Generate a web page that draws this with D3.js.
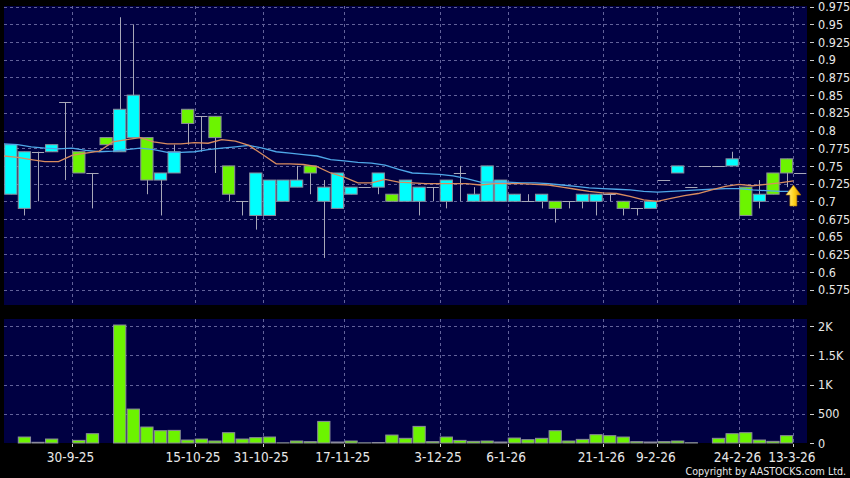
<!DOCTYPE html>
<html>
<head>
<meta charset="utf-8">
<script src="https://cdn.jsdelivr.net/npm/d3@7"></script>
<style>
  html, body { margin: 0; padding: 0; background: #000; }
  svg { display: block; }
  text { font-family: "DejaVu Sans Condensed", "DejaVu Sans", sans-serif; font-stretch: condensed; fill: #e8e8e8; }
</style>
</head>
<body>
<svg id="chart" width="850" height="478"></svg>
<script>
// daily candles, oldest first
const opens  = [0.78,0.77,0.77,0.78,0.84,0.74,0.74,0.78,0.83,0.85,0.73,0.74,0.77,0.81,0.82,0.79,0.71,0.70,0.74,0.73,
                0.73,0.73,0.74,0.72,0.74,0.72,0.72,0.74,0.70,0.73,0.72,0.72,0.73,0.74,0.71,0.75,0.73,0.71,0.70,0.71,
                0.69,0.70,0.71,0.71,0.71,0.69,0.69,0.70,0.73,0.75,0.72,0.75,0.75,0.76,0.68,0.71,0.71,0.74,0.74];
const highs  = [0.78,0.77,0.77,0.78,0.84,0.77,0.74,0.79,0.96,0.95,0.79,0.74,0.78,0.83,0.82,0.82,0.75,0.70,0.74,0.73,
                0.73,0.75,0.75,0.73,0.74,0.72,0.72,0.74,0.71,0.73,0.72,0.72,0.73,0.75,0.72,0.75,0.73,0.71,0.71,0.71,
                0.70,0.70,0.71,0.71,0.71,0.70,0.69,0.70,0.73,0.75,0.72,0.75,0.75,0.77,0.72,0.73,0.74,0.76,0.74];
const lows   = [0.71,0.68,0.70,0.77,0.73,0.74,0.69,0.78,0.77,0.79,0.71,0.68,0.74,0.78,0.77,0.74,0.70,0.68,0.66,0.68,
                0.70,0.72,0.71,0.62,0.69,0.71,0.72,0.71,0.70,0.70,0.68,0.70,0.69,0.70,0.70,0.70,0.70,0.70,0.70,0.69,
                0.67,0.69,0.69,0.68,0.70,0.68,0.68,0.69,0.73,0.74,0.72,0.75,0.75,0.75,0.68,0.69,0.71,0.72,0.74];
const closes = [0.71,0.69,0.77,0.77,0.84,0.77,0.74,0.79,0.77,0.79,0.79,0.73,0.74,0.83,0.82,0.82,0.75,0.70,0.68,0.68,
                0.70,0.72,0.75,0.70,0.69,0.71,0.72,0.72,0.71,0.70,0.70,0.72,0.70,0.74,0.70,0.70,0.70,0.70,0.70,0.70,
                0.70,0.70,0.70,0.70,0.71,0.70,0.69,0.69,0.73,0.74,0.72,0.75,0.75,0.75,0.72,0.70,0.74,0.76,0.74];
const volumes = [0,102,12,68,0,45,159,0,2017,580,273,210,216,51,68,34,176,68,91,102,
                 3,34,23,369,17,34,3,8,136,80,284,23,102,45,28,34,17,85,57,80,
                 210,34,62,142,125,102,23,17,23,34,5,0,80,159,176,51,28,125,0];
const maShort = [0.764,0.762,0.759,0.756,0.756,0.765,0.768,0.771,0.784,0.787,0.790,0.784,0.781,0.781,0.783,0.782,0.787,0.785,0.779,0.766,
                 0.753,0.753,0.752,0.749,0.740,0.734,0.726,0.726,0.731,0.727,0.726,0.725,0.725,0.725,0.725,0.723,0.725,0.725,0.725,0.724,
                 0.723,0.720,0.717,0.714,0.712,0.711,0.707,0.702,0.700,0.704,0.708,0.711,0.716,0.721,0.724,0.722,0.724,0.726,0.729];
const maLong  = [0.781,0.780,0.777,0.775,0.774,0.775,0.772,0.770,0.771,0.773,0.775,0.773,0.769,0.769,0.770,0.773,0.775,0.777,0.779,0.775,
                 0.770,0.768,0.766,0.764,0.759,0.757,0.755,0.754,0.751,0.745,0.740,0.739,0.738,0.736,0.732,0.727,0.727,0.727,0.726,0.726,
                 0.725,0.723,0.721,0.719,0.718,0.717,0.716,0.714,0.713,0.714,0.715,0.716,0.717,0.718,0.718,0.716,0.715,0.714,0.714];

const dateIdx    = [5, 14, 19, 25, 32, 37, 44, 48, 54, 58];
const dateLabels = ['30-9-25','15-10-25','31-10-25','17-11-25','3-12-25','6-1-26','21-1-26','9-2-26','24-2-26','13-3-26'];
const priceTicks = [0.575,0.6,0.625,0.65,0.675,0.7,0.725,0.75,0.775,0.8,0.825,0.85,0.875,0.9,0.925,0.95,0.975];
const volTicks   = [0, 500, 1000, 1500, 2000];
const volLabels  = ['0','500','1K','1.5K','2K'];
const arrowIdx = 58, arrowPrice = 0.723;

const upColor = '#6cf400', downColor = '#00ffff';
const gridColor = '#62629a';

const svg = d3.select('#chart');
const left = 4, right = 807;
const priceTop = 6, priceBottom = 305;
const volTop = 319, volBottom = 443;

const n = closes.length;
const x = d3.scaleBand().domain(d3.range(n)).range([left, right]).paddingInner(0.1).paddingOuter(0.05);
const slotLeft = i => x(i) - (x.step() - x.bandwidth()) / 2;
const mid = i => x(i) + x.bandwidth() / 2;

const y = d3.scaleLinear().domain([0.5535, 0.9759]).range([priceBottom, priceTop]);
const yv = d3.scaleLinear().domain([0, 2120]).range([volBottom, volTop]);

// panel backgrounds
svg.append('rect').attr('x', left).attr('y', priceTop).attr('width', right - left).attr('height', priceBottom - priceTop).attr('fill', '#000042');
svg.append('rect').attr('x', left).attr('y', volTop).attr('width', right - left).attr('height', volBottom - volTop).attr('fill', '#000042');

// grid
const grid = svg.append('g').attr('stroke', gridColor).attr('stroke-dasharray', '3,3').attr('stroke-width', 1);
grid.selectAll('line.hp').data(priceTicks).enter().append('line')
  .attr('x1', left).attr('x2', right)
  .attr('y1', d => Math.round(y(d)) + 0.5).attr('y2', d => Math.round(y(d)) + 0.5);
grid.selectAll('line.hv').data(volTicks.slice(1)).enter().append('line')
  .attr('x1', left).attr('x2', right)
  .attr('y1', d => Math.round(yv(d)) + 0.5).attr('y2', d => Math.round(yv(d)) + 0.5);
dateIdx.forEach(i => {
  const gx = Math.round(slotLeft(i)) + 0.5;
  grid.append('line').attr('x1', gx).attr('x2', gx).attr('y1', priceTop).attr('y2', priceBottom);
  grid.append('line').attr('x1', gx).attr('x2', gx).attr('y1', volTop).attr('y2', volBottom);
});

// wicks
const idx = d3.range(n);
svg.append('g').selectAll('line').data(idx).enter().append('line')
  .attr('x1', i => Math.round(mid(i)) + 0.5).attr('x2', i => Math.round(mid(i)) + 0.5)
  .attr('y1', i => y(highs[i])).attr('y2', i => y(lows[i]))
  .attr('stroke', '#a8a8b8').attr('stroke-width', 1);

// bodies
const bodies = svg.append('g');
bodies.selectAll('rect').data(idx.filter(i => opens[i] !== closes[i])).enter().append('rect')
  .attr('x', i => x(i))
  .attr('width', x.bandwidth())
  .attr('y', i => y(Math.max(opens[i], closes[i])))
  .attr('height', i => Math.abs(y(opens[i]) - y(closes[i])))
  .attr('fill', i => closes[i] > opens[i] ? upColor : downColor)
  .attr('stroke', '#8c8c9c').attr('stroke-width', 1);
bodies.selectAll('line').data(idx.filter(i => opens[i] === closes[i])).enter().append('line')
  .attr('x1', i => x(i)).attr('x2', i => x(i) + x.bandwidth())
  .attr('y1', i => Math.round(y(closes[i])) + 0.5).attr('y2', i => Math.round(y(closes[i])) + 0.5)
  .attr('stroke', '#a8a8b8').attr('stroke-width', 1);

// moving averages
const line = d3.line().x((d, i) => slotLeft(i)).y(d => y(d));
svg.append('path').datum(maLong).attr('d', line).attr('fill', 'none').attr('stroke', '#4fa8e8').attr('stroke-width', 1.3);
svg.append('path').datum(maShort).attr('d', line).attr('fill', 'none').attr('stroke', '#d98c5f').attr('stroke-width', 1.3);

// arrow marker on latest session
const defs = svg.append('defs');
const grad = defs.append('linearGradient').attr('id', 'arrowGrad').attr('x1', 0).attr('x2', 1).attr('y1', 0).attr('y2', 0);
grad.append('stop').attr('offset', '0%').attr('stop-color', '#fff6a0');
grad.append('stop').attr('offset', '55%').attr('stop-color', '#ffd21a');
grad.append('stop').attr('offset', '100%').attr('stop-color', '#d98a00');
const ax = slotLeft(arrowIdx), ay = y(arrowPrice);
svg.append('path')
  .attr('d', `M${ax},${ay} L${ax + 7.5},${ay + 10} L${ax + 3.5},${ay + 10} L${ax + 3.5},${ay + 21} L${ax - 3.5},${ay + 21} L${ax - 3.5},${ay + 10} L${ax - 7.5},${ay + 10} Z`)
  .attr('fill', 'url(#arrowGrad)').attr('stroke', '#b07800').attr('stroke-width', 0.6);

// volume bars
svg.append('g').selectAll('rect').data(idx.filter(i => volumes[i] > 0)).enter().append('rect')
  .attr('x', i => x(i)).attr('width', x.bandwidth())
  .attr('y', i => yv(volumes[i])).attr('height', i => yv(0) - yv(volumes[i]))
  .attr('fill', upColor).attr('stroke', '#8c8c9c').attr('stroke-width', 1);

// right axes
const axisX = 810;
const pAxis = svg.append('g');
pAxis.selectAll('line').data(priceTicks).enter().append('line')
  .attr('x1', axisX).attr('x2', axisX + 4)
  .attr('y1', d => Math.round(y(d)) + 0.5).attr('y2', d => Math.round(y(d)) + 0.5)
  .attr('stroke', '#d0d0d0');
pAxis.selectAll('text').data(priceTicks).enter().append('text')
  .attr('x', axisX + 8).attr('y', d => y(d)).attr('dy', '0.37em')
  .style('font-size', '12.5px')
  .text(d => d3.format('')(+d.toFixed(3)));

const vAxis = svg.append('g');
vAxis.selectAll('line').data(volTicks).enter().append('line')
  .attr('x1', axisX).attr('x2', axisX + 4)
  .attr('y1', d => Math.round(yv(d)) + 0.5).attr('y2', d => Math.round(yv(d)) + 0.5)
  .attr('stroke', '#d0d0d0');
vAxis.selectAll('text').data(volTicks).enter().append('text')
  .attr('x', axisX + 8).attr('y', d => yv(d)).attr('dy', '0.37em')
  .style('font-size', '12.5px')
  .text((d, i) => volLabels[i]);

// date axis
const dAxis = svg.append('g');
dAxis.selectAll('line').data(dateIdx).enter().append('line')
  .attr('x1', i => Math.round(slotLeft(i)) + 0.5).attr('x2', i => Math.round(slotLeft(i)) + 0.5)
  .attr('y1', volBottom + 1).attr('y2', volBottom + 4)
  .attr('stroke', '#d0d0d0');
dAxis.selectAll('text').data(dateIdx).enter().append('text')
  .attr('x', i => slotLeft(i) - 1.5).attr('y', 461.5)
  .attr('text-anchor', 'middle')
  .style('font-size', '13.5px')
  .text((d, k) => dateLabels[k]);

svg.append('text').attr('x', 846).attr('y', 475).attr('text-anchor', 'end')
  .style('font-size', '10.6px')
  .text('Copyright by AASTOCKS.com Ltd.');
</script>
</body>
</html>
